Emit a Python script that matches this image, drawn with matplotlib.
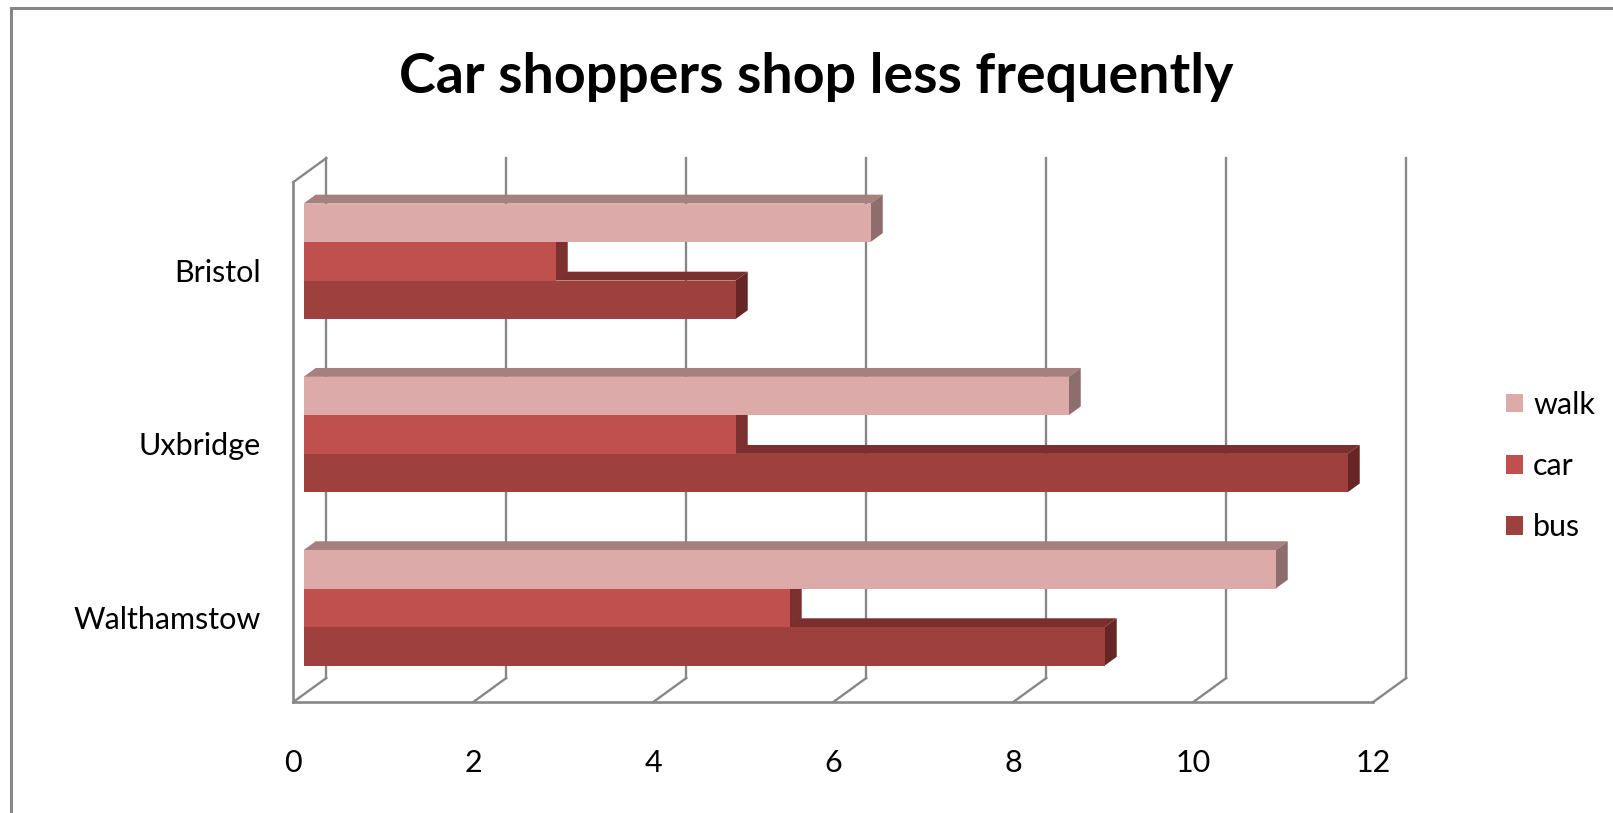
import matplotlib
matplotlib.use("Agg")
import matplotlib.pyplot as plt
from matplotlib.patches import Polygon, Rectangle, Patch

# shopping trips per month by travel mode
cities = ["Walthamstow", "Uxbridge", "Bristol"]
walk = [10.8, 8.5, 6.3]
car = [5.4, 4.8, 2.8]
bus = [8.9, 11.6, 4.8]
ticks = [0, 2, 4, 6, 8, 10, 12]
series = [("bus", bus), ("car", car), ("walk", walk)]   # bottom to top in each group

# (front, top, side) shades for the pseudo-3D bars
shades = {
    "walk": ("#DBAAA9", "#A6807E", "#8E6E6D"),
    "car": ("#C0504D", "#953B39", "#7C3030"),
    "bus": ("#9E413E", "#7A2E2E", "#652625"),
}
grid_col = "#878787"
label_size = 22

W, H = 1613, 813
fig = plt.figure(figsize=(W / 100, H / 100), dpi=100)
plt.rcParams["font.family"] = ["Lato", "DejaVu Sans"]

# one axes over the whole figure; x in value units, y in category units
px_per_val, px_per_cat = 90.0, 173.3
x_origin, y_origin = 293.3, H - 702.0
ax = fig.add_axes([0, 0, 1, 1])
ax.set_xlim(-x_origin / px_per_val, (W - x_origin) / px_per_val)
ax.set_ylim(-y_origin / px_per_cat, (H - y_origin) / px_per_cat)
ax.axis("off")

# oblique depth of the plot box and of the bars
DX, DY = 33 / px_per_val, 24 / px_per_cat
F0, F1 = 0.31, 0.68
BH = 1 / 4.5
ncat = len(cities)
vmax = ticks[-1]

# walls and floor
for v in ticks:
    ax.plot([v + DX, v + DX], [DY, ncat + DY], color=grid_col, lw=1.7, zorder=1)
    ax.plot([v, v + DX], [0, DY], color=grid_col, lw=1.7, zorder=1)
ax.plot([0, vmax], [0, 0], color=grid_col, lw=1.9, zorder=1)
ax.plot([0, 0], [0, ncat], color=grid_col, lw=1.9, zorder=1)
ax.plot([0, DX], [ncat, ncat + DY], color=grid_col, lw=1.7, zorder=1)


def draw_bar(y0, value, front, top, side):
    x0 = DX * F0
    yb = y0 + DY * F0
    ox, oy = DX * (F1 - F0), DY * (F1 - F0)
    x1 = x0 + value
    yt = yb + BH
    ax.add_patch(Polygon([(x0, yt), (x1, yt), (x1 + ox, yt + oy), (x0 + ox, yt + oy)],
                         closed=True, fc=top, ec="none", zorder=2))
    ax.add_patch(Polygon([(x1, yb), (x1 + ox, yb + oy), (x1 + ox, yt + oy), (x1, yt)],
                         closed=True, fc=side, ec="none", zorder=2))
    ax.add_patch(Rectangle((x0, yb), value, BH, fc=front, ec="none", zorder=2))


for i, name in enumerate(cities):
    c = i + 0.5
    for k, (mode, vals) in enumerate(series):
        draw_bar(c + (k - 1.5) * BH, vals[i], *shades[mode])
    ax.text(-0.36, c - 0.025, name, ha="right", va="center", fontsize=label_size, color="#000000")

for v in ticks:
    ax.text(v, -0.35, str(v), ha="center", va="center", fontsize=label_size, color="#000000")

handles = [Patch(fc=shades[m][0], ec="none") for m, _ in series[::-1]]
labels = [m for m, _ in series[::-1]]
ax.legend(handles, labels, loc="center left",
          bbox_to_anchor=(1506 / W, 1 - 466 / H), bbox_transform=fig.transFigure,
          frameon=False, fontsize=label_size, handlelength=0.56, handleheight=0.56,
          handletextpad=0.33, borderpad=0, borderaxespad=0, labelspacing=1.09)

fig.text(816 / W, 1 - 77 / H, "Car shoppers shop less frequently",
         ha="center", va="center", fontsize=40, fontweight="bold")

# chart border
fig.patches.append(Rectangle((11 / W, -0.1), 2, 1 - 8 / H + 0.1, transform=fig.transFigure,
                             fill=False, ec="#868686", lw=2.2, zorder=0))

fig.savefig("out.png", dpi=100, facecolor="white")
